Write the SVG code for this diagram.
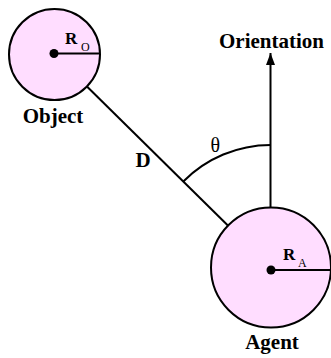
<svg xmlns="http://www.w3.org/2000/svg" width="331" height="358" viewBox="0 0 331 358">
<defs>
<marker id="arr" markerWidth="12" markerHeight="10" refX="12" refY="5" orient="auto" markerUnits="userSpaceOnUse">
<path d="M0,0.5 L12,5 L0,9.5 Z" fill="#000"/>
</marker>
<style>
.ln{stroke:#000;stroke-width:2;fill:none}
.body{fill:#ffddff;stroke:#000;stroke-width:2}
text{font-family:'Liberation Serif','Times New Roman','DejaVu Serif',serif;fill:#000}
.lbl{font-weight:bold;font-size:21px;text-anchor:middle}
.r{font-weight:bold;font-size:17px}
.sub{font-size:12px}
.th{font-size:20px}
</style>
</defs>
<g id="connectors">
<line class="ln" x1="54" y1="54" x2="271" y2="268"/>
<line class="ln" x1="270.5" y1="208" x2="270.5" y2="53" marker-end="url(#arr)"/>
<path class="ln" d="M183.3,181.5 A123,123 0 0 1 270.5,145"/>
<text class="lbl" x="143" y="167" font-size="20">D</text>
<text class="th" x="210.5" y="152">θ</text>
</g>
<g id="object">
<circle class="body" cx="54.5" cy="54.5" r="45.5"/>
<circle cx="54" cy="53.5" r="4.5" fill="#000"/>
<line class="ln" x1="54" y1="53.5" x2="100" y2="53.5"/>
<text class="r" x="65" y="43.5">R</text>
<text class="sub" x="81" y="51">O</text>
<text class="lbl" x="53" y="123">Object</text>
</g>
<g id="agent">
<circle class="body" cx="271" cy="267.5" r="60"/>
<circle cx="271" cy="270" r="4.5" fill="#000"/>
<line class="ln" x1="271" y1="270" x2="331" y2="270"/>
<text class="r" x="283" y="260">R</text>
<text class="sub" x="298" y="267">A</text>
<text class="lbl" x="272" y="349">Agent</text>
</g>
<g id="orientation">
<text class="lbl" x="271.5" y="48">Orientation</text>
</g>
</svg>
